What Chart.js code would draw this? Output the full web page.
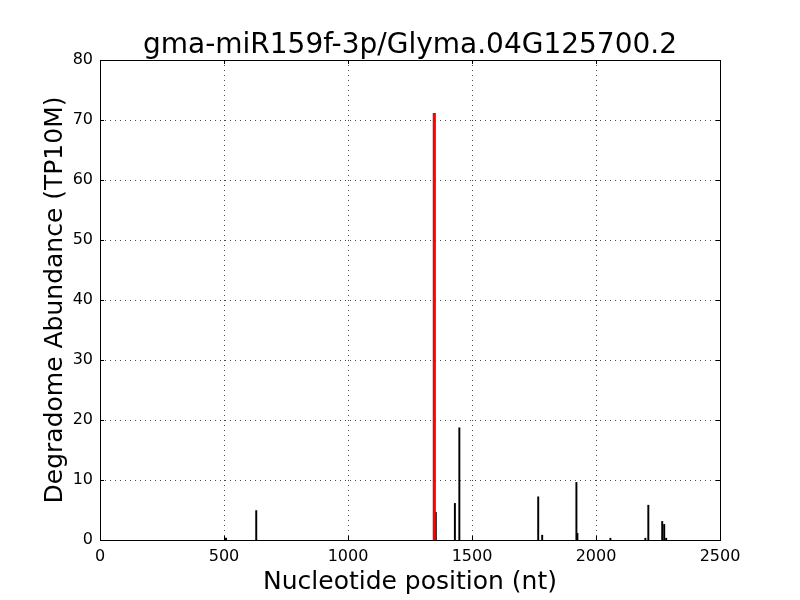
<!DOCTYPE html>
<html>
<head>
<meta charset="utf-8">
<script src="https://cdn.jsdelivr.net/npm/chart.js@4"></script>
<style>
  body { margin: 0; background: #fff; }
  #wrap { width: 800px; height: 600px; }
</style>
</head>
<body>
<div id="wrap"><canvas id="myChart" width="800" height="600"></canvas></div>
<script>
// data
var positions = [508, 630, 1354, 1431, 1449, 1767, 1783, 1921, 1925, 2058, 2199, 2211, 2267, 2275, 2283];
var abundance = [0.3, 4.9, 4.6, 6.1, 18.7, 7.2, 0.8, 9.6, 1.1, 0.3, 0.3, 5.8, 3.1, 2.6, 0.3];
var sitePos = [1348];
var siteAbundance = [71.1];
var xTicks = [0, 500, 1000, 1500, 2000, 2500];
var yTicks = [0, 10, 20, 30, 40, 50, 60, 70, 80];

function toPoints(xs, ys) {
  return xs.map(function(x, i) { return {x: x, y: ys[i]}; });
}

// box + inward ticks like matplotlib
var frame = {
  id: 'frame',
  afterDraw: function(chart) {
    var c = chart.ctx, a = chart.chartArea;
    var sx = chart.scales.x, sy = chart.scales.y;
    c.save();
    c.strokeStyle = '#000';
    c.lineWidth = 1;
    c.beginPath();
    xTicks.forEach(function(t) {
      var px = Math.round(sx.getPixelForValue(t)) + 0.5;
      c.moveTo(px, a.bottom); c.lineTo(px, a.bottom - 4);
      c.moveTo(px, a.top); c.lineTo(px, a.top + 4);
    });
    yTicks.forEach(function(t) {
      var py = Math.round(sy.getPixelForValue(t)) + 0.5;
      c.moveTo(a.left, py); c.lineTo(a.left + 4, py);
      c.moveTo(a.right, py); c.lineTo(a.right - 4, py);
    });
    c.stroke();
    c.strokeRect(Math.round(a.left) + 0.5, Math.round(a.top) + 0.5, Math.round(a.right - a.left), Math.round(a.bottom - a.top));
    c.restore();
  }
};

var ctx = document.getElementById('myChart').getContext('2d');

var chart = new Chart(ctx, {
  type: 'bar',
  data: {
    datasets: [{
      label: 'tags',
      data: toPoints(positions, abundance),
      backgroundColor: '#000',
      barThickness: 1.3,
      grouped: false,
      order: 2
    },
    {
      label: 'site',
      data: toPoints(sitePos, siteAbundance),
      backgroundColor: '#ff0000',
      barThickness: 2.5,
      grouped: false,
      order: 1
    }]
  },
  plugins: [frame],
  options: {
    responsive: false,
    animation: false,
    devicePixelRatio: 1,
    layout: { padding: { left: 0, right: 80, top: 0, bottom: 0 } },
    plugins: {
      legend: { display: false },
      tooltip: { enabled: false },
      title: {
        display: true,
        text: 'gma-miR159f-3p/Glyma.04G125700.2',
        color: '#000',
        fullSize: false,
        font: { family: 'DejaVu Sans', size: 28, weight: 'normal', lineHeight: 1.0 },
        padding: { top: 32, bottom: 0 }
      }
    },
    scales: {
      x: {
        type: 'linear',
        min: 0,
        max: 2500,
        offset: false,
        afterFit: function(s) { s.height = 60; },
        grid: { color: '#000', lineWidth: 0.7, drawTicks: false, offset: false },
        border: { display: false, dash: [1, 4] },
        ticks: {
          stepSize: 500,
          color: '#000',
          padding: 7,
          maxRotation: 0,
          autoSkip: false,
          font: { family: 'DejaVu Sans', size: 16 },
          callback: function(v) { return String(v); }
        },
        title: {
          display: true,
          text: 'Nucleotide position (nt)',
          color: '#000',
          font: { family: 'DejaVu Sans', size: 25 },
          padding: { top: 3, bottom: 3 }
        }
      },
      y: {
        min: 0,
        max: 80,
        afterFit: function(s) { s.width = 100; },
        grid: { color: '#000', lineWidth: 0.7, drawTicks: false },
        border: { display: false, dash: [1, 4] },
        ticks: {
          stepSize: 10,
          color: '#000',
          padding: 7,
          autoSkip: false,
          font: { family: 'DejaVu Sans', size: 16 },
          callback: function(v) { return String(v); }
        },
        title: {
          display: true,
          text: 'Degradome Abundance (TP10M)',
          color: '#000',
          font: { family: 'DejaVu Sans', size: 25 },
          padding: { top: 40, bottom: 7 }
        }
      }
    }
  }
});
</script>
</body>
</html>
